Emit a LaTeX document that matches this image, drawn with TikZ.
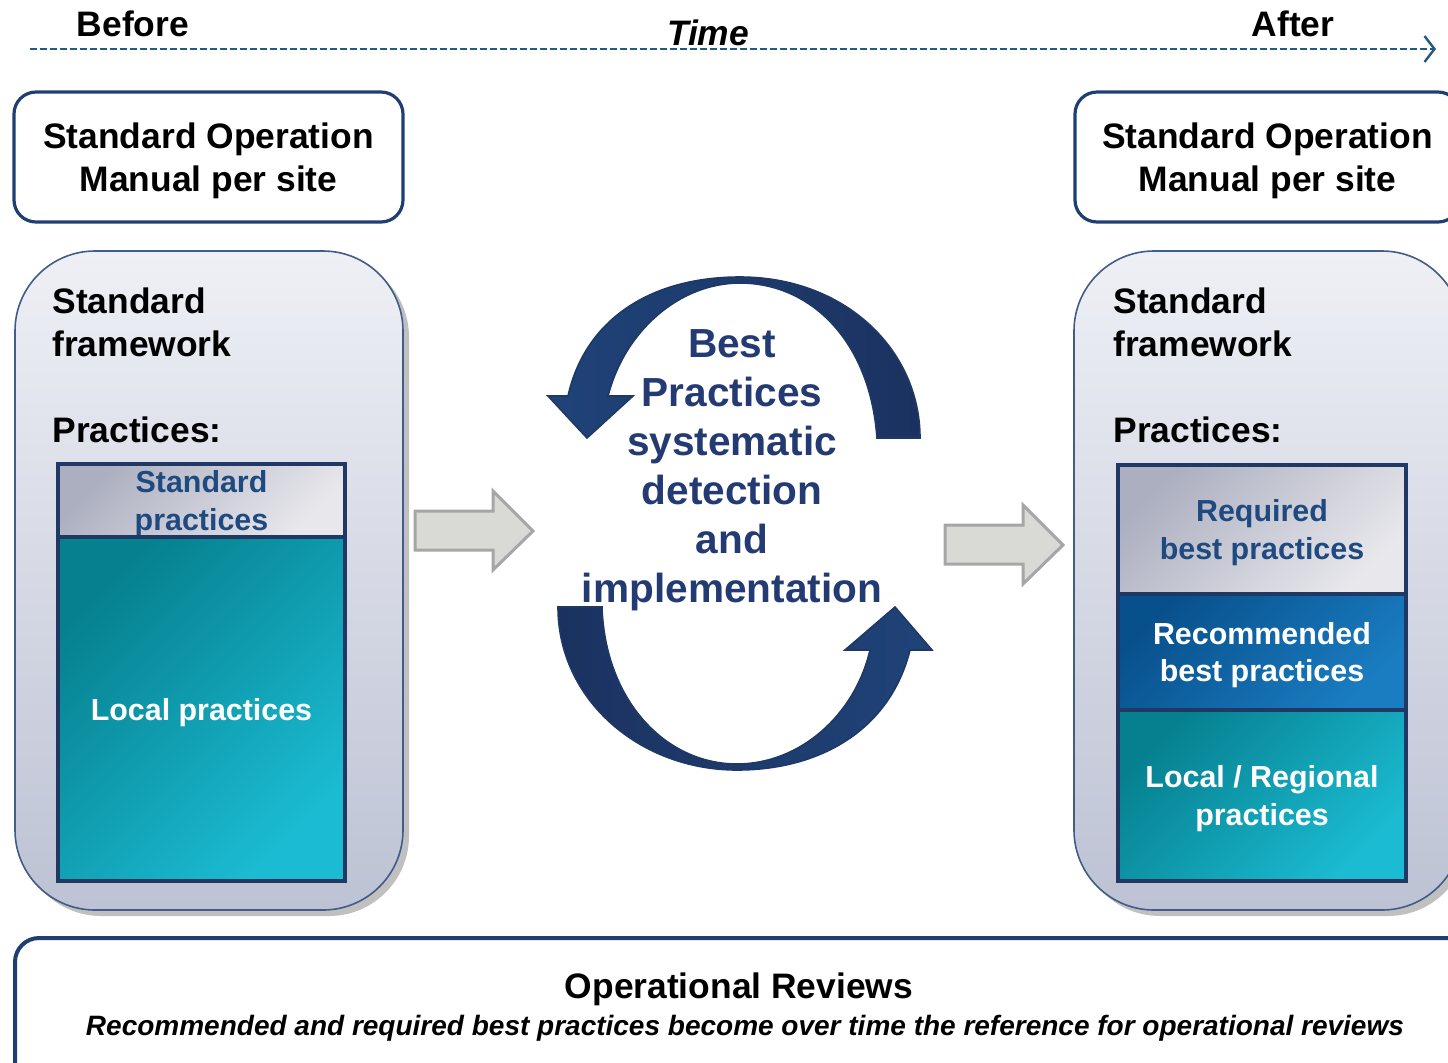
\documentclass[tikz,border=0pt]{standalone}
\usepackage{fontspec}
\setmainfont{Liberation Sans}
\usepackage{tikz}
\usetikzlibrary{positioning}
\usetikzlibrary{shapes,arrows,arrows.meta,shadows}

\definecolor{navy}{HTML}{1F3864}
\definecolor{boxblue}{HTML}{1F3F73}
\definecolor{timeblue}{HTML}{1F5C80}
\definecolor{bptext}{HTML}{243A73}
\definecolor{practext}{HTML}{1F4A80}
\definecolor{panelTop}{HTML}{EEF0F5}
\definecolor{panelBot}{HTML}{BDC2D4}
\definecolor{tealA}{HTML}{06808F}
\definecolor{tealB}{HTML}{1BBCD3}
\definecolor{blueA}{HTML}{08508C}
\definecolor{blueB}{HTML}{1A7DC2}
\definecolor{greyA}{HTML}{ACAFC0}
\definecolor{greyB}{HTML}{E8E8EC}
\definecolor{arrowfill}{HTML}{D9D9D6}
\definecolor{arrowline}{HTML}{A6A6A6}
\definecolor{cycleA}{HTML}{1F4378}
\definecolor{cycleB}{HTML}{1B3260}

\tikzset{
  big/.style={font=\fontsize{17.7}{21.5}\selectfont\bfseries},
  manual/.style={big, draw=boxblue, line width=1.6pt, rounded corners=11pt, minimum height=65pt, align=center, text depth=-2pt},
  panel/.style={draw=boxblue!85, line width=0.8pt, rounded corners=40pt, top color=panelTop, bottom color=panelBot,
    minimum width=194pt, minimum height=329.5pt,
    drop shadow={shadow xshift=3pt, shadow yshift=-3pt, opacity=0.45, fill=black!55}},
  heading/.style={big, anchor=north west, inner sep=0pt, align=left},
  layer/.style={draw=navy, line width=2pt, outer sep=0pt, inner sep=0pt, align=center, text depth=0pt,
    font=\fontsize{15.2}{18.8}\selectfont\bfseries},
  greylayer/.style={layer, top color=greyA, bottom color=greyB, shading angle=45, text=practext},
  bluelayer/.style={layer, top color=blueA, bottom color=blueB, shading angle=45, text=white},
  teallayer/.style={layer, top color=tealA, bottom color=tealB, shading angle=45, text=white},
  blockarrow/.style={draw=arrowline, fill=arrowfill, line width=1.5pt},
  cyclearrow/.style={draw=navy, line width=0.8pt},
  timeline/.style={draw=timeblue, line width=1.45pt, dash pattern=on 3.5pt off 1.5pt,
    -{Straight Barb[length=5pt, width=13pt, line width=1.2pt]}}
}

\begin{document}
\begin{tikzpicture}[x=0.5pt, y=-0.5pt]
\useasboundingbox (0,0) rectangle (1448,1062);
\clip (0,0) rectangle (1448,1062);

% time line %
\coordinate (t0) at (30,49);
\coordinate (t1) at (1436,49);
\draw[timeline] (t0) -- (t1);
\node[big] (before) at (133,24) {Before};
\node[big, font=\fontsize{17.7}{21.5}\selectfont\bfseries\itshape] (time) at (708,33) {Time};
\node[big] (after) at (1293,24) {After};

% manuals %
\node[manual, minimum width=194.5pt] (som) at (208.5,157) {Standard Operation\\Manual per site};
\node[manual, minimum width=192.5pt] (som1) at (1267.5,157) {Standard Operation\\Manual per site};

% panels %
\node[panel] (frame) at (209,580.5) {};
\node[panel] (frame1) at (1268,580.5) {};

\node[heading] (std) at (52,287) {Standard\\framework};
\node[heading] (prac) at (52,416) {Practices:};
\node[heading] (std1) at (1113,287) {Standard\\framework};
\node[heading] (prac1) at (1113,416) {Practices:};

% before layers %
\node[greylayer, minimum width=143.5pt, minimum height=36.5pt, anchor=north] (stdprac) at (201.5,464) {Standard\\practices};
\node[teallayer, minimum width=143.5pt, minimum height=172pt, below=0pt of stdprac] (local) {Local practices};

% after layers %
\node[greylayer, minimum width=144pt, minimum height=64.5pt, anchor=north] (req) at (1262,465) {Required\\best practices};
\node[bluelayer, minimum width=144pt, minimum height=58pt, below=0pt of req] (rec) {Recommended\\best practices};
\node[teallayer, minimum width=144pt, minimum height=85.5pt, below=0pt of rec] (local1) {Local / Regional\\practices};

% block arrows %
\draw[blockarrow] (415,511) -- (493,511) -- (493,491) -- (533,531) -- (493,570) -- (493,550) -- (415,550) -- cycle;
\draw[blockarrow] (945,525) -- (1023,525) -- (1023,505) -- (1063,545) -- (1023,584) -- (1023,564) -- (945,564) -- cycle;

% cycle %
\draw[cyclearrow, left color=cycleA, right color=cycleB]
  (920,438) -- (877,438)
  .. controls (870,340) and (810,283) .. (740,283)
  .. controls (680,283) and (625,330) .. (608,396)
  -- (633,396) -- (587,438) -- (548,396) -- (568,396)
  .. controls (585,320) and (650,277) .. (740,277)
  .. controls (845,277) and (920,350) .. (920,438) -- cycle;
\draw[cyclearrow, left color=cycleB, right color=cycleA]
  (558,607) -- (602,607)
  .. controls (605,700) and (665,764) .. (737,764)
  .. controls (800,764) and (855,715) .. (870,650)
  -- (845,650) -- (895,607) -- (932,650) -- (910,650)
  .. controls (890,730) and (820,770) .. (737,770)
  .. controls (640,770) and (558,700) .. (558,607) -- cycle;
\node[anchor=north, inner sep=0pt, align=center, text=bptext, font=\fontsize{20.3}{24.5}\selectfont\bfseries] (bp) at (732,329)
  {Best\\Practices\\systematic\\detection\\and\\implementation};

% reviews %
\draw[draw=boxblue, line width=2pt, rounded corners=12pt] (15,938) rectangle (1490,1100);
\node[big] (review) at (739,989) {Operational Reviews};
\node[font=\fontsize{14}{17}\selectfont\bfseries\itshape] (note) at (745,1028)
  {Recommended and required best practices become over time the reference for operational reviews};

\end{tikzpicture}
\end{document}
